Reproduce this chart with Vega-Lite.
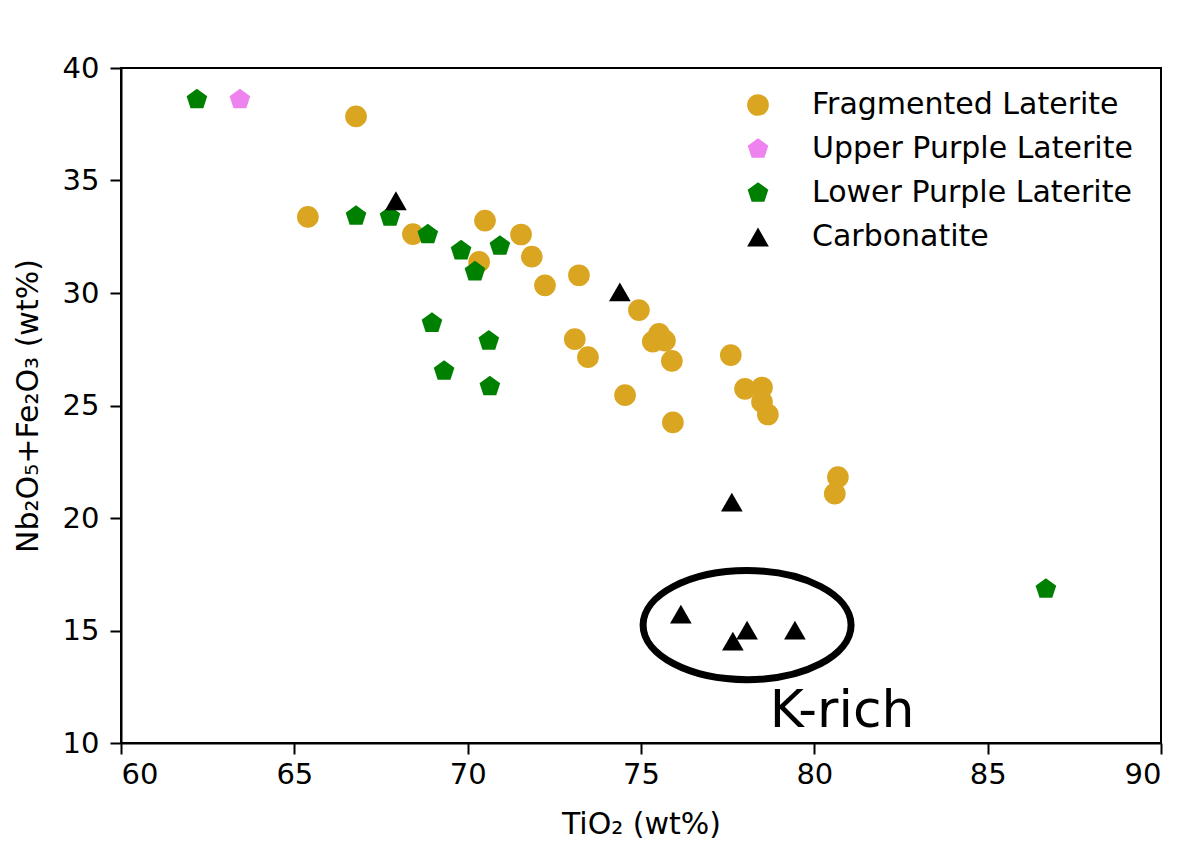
{
  "$schema": "https://vega.github.io/schema/vega-lite/v6.json",
  "autosize": {"type": "none"},
  "padding": {"left": 121, "top": 68, "right": 30, "bottom": 102},
  "width": 1040,
  "height": 675,
  "background": "white",
  "config": {
    "font": "DejaVu Sans",
    "view": {"stroke": "black", "strokeWidth": 2},
    "axis": {
      "grid": false,
      "domainColor": "black",
      "domainWidth": 2,
      "tickColor": "black",
      "tickWidth": 2,
      "tickSize": 11,
      "labelFont": "DejaVu Sans",
      "labelFontSize": 29,
      "labelColor": "black",
      "titleFont": "DejaVu Sans",
      "titleFontSize": 30,
      "titleFontWeight": "normal",
      "titleColor": "black"
    }
  },
  "layer": [
    {
      "data": {
        "values": [
          {"TiO2": 66.78, "NbFe": 37.85, "group": "Fragmented Laterite"},
          {"TiO2": 65.39, "NbFe": 33.38, "group": "Fragmented Laterite"},
          {"TiO2": 68.42, "NbFe": 32.62, "group": "Fragmented Laterite"},
          {"TiO2": 70.50, "NbFe": 33.22, "group": "Fragmented Laterite"},
          {"TiO2": 70.33, "NbFe": 31.38, "group": "Fragmented Laterite"},
          {"TiO2": 71.54, "NbFe": 32.60, "group": "Fragmented Laterite"},
          {"TiO2": 71.85, "NbFe": 31.62, "group": "Fragmented Laterite"},
          {"TiO2": 72.23, "NbFe": 30.34, "group": "Fragmented Laterite"},
          {"TiO2": 73.21, "NbFe": 30.79, "group": "Fragmented Laterite"},
          {"TiO2": 74.94, "NbFe": 29.24, "group": "Fragmented Laterite"},
          {"TiO2": 73.09, "NbFe": 27.95, "group": "Fragmented Laterite"},
          {"TiO2": 73.47, "NbFe": 27.15, "group": "Fragmented Laterite"},
          {"TiO2": 75.52, "NbFe": 28.18, "group": "Fragmented Laterite"},
          {"TiO2": 75.34, "NbFe": 27.84, "group": "Fragmented Laterite"},
          {"TiO2": 75.69, "NbFe": 27.88, "group": "Fragmented Laterite"},
          {"TiO2": 75.89, "NbFe": 26.98, "group": "Fragmented Laterite"},
          {"TiO2": 74.54, "NbFe": 25.46, "group": "Fragmented Laterite"},
          {"TiO2": 75.92, "NbFe": 24.25, "group": "Fragmented Laterite"},
          {"TiO2": 77.59, "NbFe": 27.24, "group": "Fragmented Laterite"},
          {"TiO2": 78.00, "NbFe": 25.74, "group": "Fragmented Laterite"},
          {"TiO2": 78.49, "NbFe": 25.80, "group": "Fragmented Laterite"},
          {"TiO2": 78.49, "NbFe": 25.16, "group": "Fragmented Laterite"},
          {"TiO2": 78.66, "NbFe": 24.60, "group": "Fragmented Laterite"},
          {"TiO2": 80.68, "NbFe": 21.82, "group": "Fragmented Laterite"},
          {"TiO2": 80.59, "NbFe": 21.08, "group": "Fragmented Laterite"},
          {"TiO2": 63.43, "NbFe": 38.60, "group": "Upper Purple Laterite"},
          {"TiO2": 62.19, "NbFe": 38.60, "group": "Lower Purple Laterite"},
          {"TiO2": 66.78, "NbFe": 33.42, "group": "Lower Purple Laterite"},
          {"TiO2": 67.76, "NbFe": 33.38, "group": "Lower Purple Laterite"},
          {"TiO2": 68.85, "NbFe": 32.60, "group": "Lower Purple Laterite"},
          {"TiO2": 69.81, "NbFe": 31.88, "group": "Lower Purple Laterite"},
          {"TiO2": 70.93, "NbFe": 32.09, "group": "Lower Purple Laterite"},
          {"TiO2": 70.21, "NbFe": 30.95, "group": "Lower Purple Laterite"},
          {"TiO2": 68.97, "NbFe": 28.66, "group": "Lower Purple Laterite"},
          {"TiO2": 70.61, "NbFe": 27.87, "group": "Lower Purple Laterite"},
          {"TiO2": 69.32, "NbFe": 26.53, "group": "Lower Purple Laterite"},
          {"TiO2": 70.64, "NbFe": 25.84, "group": "Lower Purple Laterite"},
          {"TiO2": 86.68, "NbFe": 16.84, "group": "Lower Purple Laterite"},
          {"TiO2": 67.93, "NbFe": 34.10, "group": "Carbonatite"},
          {"TiO2": 74.39, "NbFe": 30.05, "group": "Carbonatite"},
          {"TiO2": 77.62, "NbFe": 20.71, "group": "Carbonatite"},
          {"TiO2": 76.15, "NbFe": 15.73, "group": "Carbonatite"},
          {"TiO2": 78.06, "NbFe": 15.02, "group": "Carbonatite"},
          {"TiO2": 77.65, "NbFe": 14.53, "group": "Carbonatite"},
          {"TiO2": 79.44, "NbFe": 15.02, "group": "Carbonatite"}
        ]
      },
      "mark": {"type": "point", "filled": true, "opacity": 1, "size": 470, "strokeWidth": 0},
      "encoding": {
        "x": {
          "field": "TiO2", "type": "quantitative",
          "scale": {"domain": [60, 90], "nice": false, "zero": false},
          "axis": {"values": [60, 65, 70, 75, 80, 85, 90], "title": "TiO₂ (wt%)", "labelPadding": 6, "titlePadding": 20}
        },
        "y": {
          "field": "NbFe", "type": "quantitative",
          "scale": {"domain": [10, 40], "nice": false, "zero": false},
          "axis": {"values": [10, 15, 20, 25, 30, 35, 40], "title": "Nb₂O₅+Fe₂O₃ (wt%)", "labelPadding": 11, "titlePadding": 19}
        },
        "color": {
          "field": "group", "type": "nominal",
          "scale": {
            "domain": ["Fragmented Laterite", "Upper Purple Laterite", "Lower Purple Laterite", "Carbonatite"],
            "range": ["#DAA520", "#EE82EE", "#008000", "#000000"]
          },
          "legend": {
            "title": null,
            "orient": "none",
            "legendX": 622,
            "legendY": 22,
            "labelFontSize": 30,
            "labelFont": "DejaVu Sans",
            "labelColor": "black",
            "labelLimit": 0,
            "symbolSize": 470,
            "symbolStrokeWidth": 0,
            "rowPadding": 14,
            "labelOffset": 39
          }
        },
        "shape": {
          "field": "group", "type": "nominal",
          "scale": {
            "domain": ["Fragmented Laterite", "Upper Purple Laterite", "Lower Purple Laterite", "Carbonatite"],
            "range": ["circle", "M0,-1L-0.951,-0.309L-0.588,0.809L0.588,0.809L0.951,-0.309Z", "M0,-1L-0.951,-0.309L-0.588,0.809L0.588,0.809L0.951,-0.309Z", "triangle-up"]
          },
          "legend": null
        }
      }
    },
    {
      "data": {"values": [{"TiO2": 78.06, "NbFe": 15.24}]},
      "mark": {
        "type": "point",
        "shape": "M1,0C1,0.29,0.5523,0.525,0,0.525C-0.5523,0.525,-1,0.29,-1,0C-1,-0.29,-0.5523,-0.525,0,-0.525C0.5523,-0.525,1,-0.29,1,0Z",
        "size": 43264,
        "filled": false,
        "stroke": "black",
        "strokeWidth": 7,
        "opacity": 1
      },
      "encoding": {
        "x": {"field": "TiO2", "type": "quantitative"},
        "y": {"field": "NbFe", "type": "quantitative"}
      }
    },
    {
      "data": {"values": [{"TiO2": 80.8, "NbFe": 10.72, "label": "K-rich"}]},
      "mark": {"type": "text", "font": "DejaVu Sans", "fontSize": 52, "align": "center", "baseline": "alphabetic", "color": "black"},
      "encoding": {
        "x": {"field": "TiO2", "type": "quantitative"},
        "y": {"field": "NbFe", "type": "quantitative"},
        "text": {"field": "label"}
      }
    }
  ]
}
